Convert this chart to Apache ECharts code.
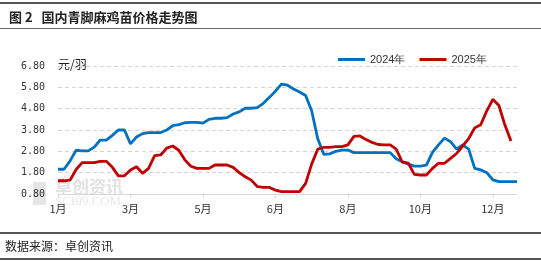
<!DOCTYPE html>
<html>
<head>
<meta charset="utf-8">
<script src="https://cdn.jsdelivr.net/npm/echarts@6/dist/echarts.min.js"></script>
<style>
  html, body { margin: 0; padding: 0; background: #fff; }
  #chart { width: 541px; height: 261px; }
</style>
</head>
<body>
<div id="chart"></div>
<script>
// month labels shown every 12 points on the category axis
const monthLabels = ['1月', '3月', '5月', '6月', '8月', '10月', '12月']
const labelStep = 12

const price2024 = [
  1.96, 1.96, 2.35, 2.85, 2.82, 2.82, 3.0, 3.33, 3.33, 3.55,
  3.80, 3.80, 3.15, 3.47, 3.63, 3.68, 3.68, 3.68, 3.8, 4.0,
  4.05, 4.14, 4.16, 4.16, 4.12, 4.3, 4.35, 4.35, 4.38, 4.55,
  4.65, 4.82, 4.82, 4.85, 5.05, 5.33, 5.62, 5.95, 5.9, 5.72,
  5.58, 5.42, 4.7, 3.4, 2.66, 2.68, 2.8, 2.86, 2.86, 2.74,
  2.74, 2.74, 2.74, 2.74, 2.74, 2.74, 2.45, 2.31, 2.2, 2.11,
  2.11, 2.15, 2.75, 3.1, 3.42, 3.25, 2.9, 3.1, 2.9, 2.0,
  1.93, 1.8, 1.46, 1.38, 1.38, 1.38, 1.38
]

const price2025 = [
  1.42, 1.42, 1.45, 1.95, 2.27, 2.27, 2.27, 2.33, 2.33, 2.05,
  1.65, 1.65, 1.93, 2.08, 1.77, 2.0, 2.6, 2.63, 2.95, 3.05,
  2.85, 2.4, 2.1, 2.0, 2.0, 2.0, 2.16, 2.16, 2.16, 2.05,
  1.8, 1.61, 1.45, 1.15, 1.11, 1.11, 0.98, 0.91, 0.91, 0.91,
  0.91, 1.3, 2.2, 2.9, 2.99, 2.99, 3.02, 3.02, 3.1, 3.5,
  3.52, 3.35, 3.22, 3.12, 3.1, 3.1, 2.9, 2.3, 2.25, 1.72,
  1.69, 1.69, 2.0, 2.24, 2.24, 2.47, 2.7, 3.05, 3.4, 3.9,
  4.05, 4.7, 5.24, 4.95, 4.03, 3.28, null
]

const categories = price2024.map((_, i) => String(i))

const chart = echarts.init(document.getElementById('chart'), null, { renderer: 'canvas' })

chart.setOption({
    backgroundColor: '#fff',
    animation: false,
    title: {
        text: '图 2   国内青脚麻鸡苗价格走势图',
        left: 4,
        top: 6,
        textStyle: {
            fontFamily: 'Noto Sans CJK SC',
            fontWeight: 'bold',
            fontSize: 13,
            color: '#222',
        },
    },
    legend: {
        left: 333,
        top: 49,
        itemWidth: 27,
        itemHeight: 3,
        itemGap: 14,
        icon: 'rect',
        textStyle: {
            fontFamily: 'Liberation Sans',
            fontSize: 11,
            color: '#333',
        },
        data: ['2024年', '2025年'],
    },
    grid: {
        left: 58,
        right: 24,
        top: 66,
        bottom: 67,
    },
    xAxis: {
        type: 'category',
        boundaryGap: false,
        data: categories,
        axisLine: {
            lineStyle: { color: '#d9d9d9' },
        },
        axisTick: {
            interval: labelStep - 1,
            length: 4,
            lineStyle: { color: '#d9d9d9' },
        },
        axisLabel: {
            interval: labelStep - 1,
            margin: 9,
            fontFamily: 'Noto Sans CJK SC',
            fontSize: 11,
            color: '#333',
            formatter: (value, index) => monthLabels[index / labelStep] || '',
        },
    },
    yAxis: {
        type: 'value',
        min: 0.8,
        max: 6.8,
        interval: 1,
        axisLine: { show: false },
        axisTick: { show: false },
        splitLine: {
            lineStyle: { color: '#d4d4d4', type: [4, 3] },
        },
        axisLabel: {
            margin: 13,
            fontFamily: 'DejaVu Sans Mono',
            fontSize: 10,
            color: '#333',
            formatter: v => v.toFixed(2),
        },
    },
    graphic: [
        { type: 'rect', shape: { x: 0, y: 2, width: 541, height: 2 }, style: { fill: '#555' } },
        { type: 'rect', shape: { x: 0, y: 28, width: 541, height: 1 }, style: { fill: '#666' } },
        { type: 'rect', shape: { x: 0, y: 232, width: 541, height: 2 }, style: { fill: '#555' } },
        { type: 'rect', shape: { x: 0, y: 258, width: 541, height: 2 }, style: { fill: '#555' } },
        {
            type: 'text', left: 5, top: 240,
            style: { text: '数据来源：卓创资讯', font: '12px "Noto Sans CJK SC"', fill: '#222' },
        },
        {
            type: 'text', left: 58, top: 65 - 7,
            style: { text: '元/羽', font: '12px "Noto Sans CJK SC"', fill: '#222' },
        },
        // watermark
        { type: 'rect', z: -1, shape: { x: 33, y: 182, width: 13, height: 23 }, style: { fill: '#e6e6e6' } },
        {
            type: 'text', z: -1, left: 55, top: 178,
            style: { text: '卓创资讯', font: 'bold 17px "Noto Sans CJK SC"', fill: '#e2e2e2' },
        },
        {
            type: 'text', z: -1, left: 55, top: 195,
            style: { text: 'SCI99.COM', font: '13px "Liberation Serif"', fill: '#e8e8e8' },
        },
    ],
    series: [
        {
            name: '2024年',
            type: 'line',
            data: price2024,
            showSymbol: false,
            color: '#0070C0',
            lineStyle: { width: 2.8, color: '#0070C0' },
        },
        {
            name: '2025年',
            type: 'line',
            data: price2025,
            showSymbol: false,
            color: '#C00000',
            lineStyle: { width: 2.8, color: '#C00000' },
        },
    ],
})
</script>
</body>
</html>
